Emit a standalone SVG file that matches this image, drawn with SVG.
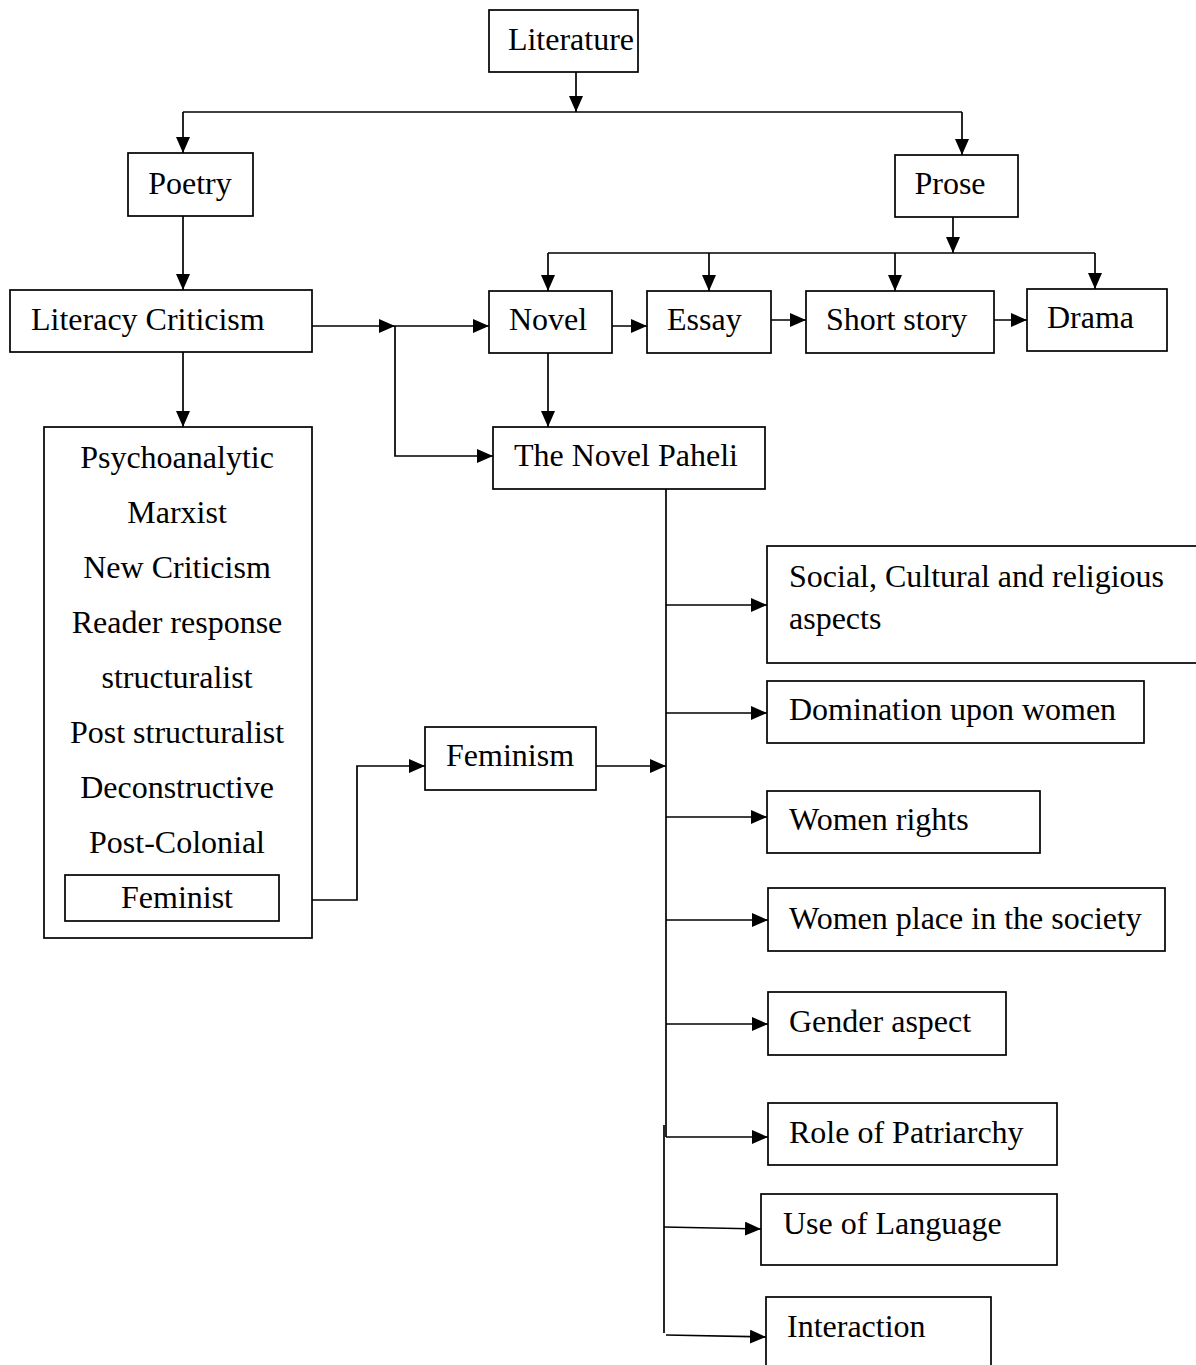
<svg xmlns="http://www.w3.org/2000/svg" width="1196" height="1365" viewBox="0 0 1196 1365">
<style>
.box{fill:#fff;stroke:#000;stroke-width:1.7}
.t{font-family:"Liberation Serif","Times New Roman",serif;font-size:32px;fill:#000}
.c{text-anchor:middle}
.ln{fill:none;stroke:#000;stroke-width:1.7}
</style>
<defs>
<marker id="ah" viewBox="0 0 16 14" refX="16" refY="7" markerWidth="16" markerHeight="14" markerUnits="userSpaceOnUse" orient="auto">
<path d="M0,0 L16,7 L0,14 Z" fill="#000"/>
</marker>
</defs>
<rect width="1196" height="1365" fill="#fff"/>
<g id="connectors">
<path class="ln" d="M576,72 V112" marker-end="url(#ah)"/>
<path class="ln" d="M183,112 H962"/>
<path class="ln" d="M183,112 V153" marker-end="url(#ah)"/>
<path class="ln" d="M962,112 V155" marker-end="url(#ah)"/>
<path class="ln" d="M183,216 V290" marker-end="url(#ah)"/>
<path class="ln" d="M953,217 V253" marker-end="url(#ah)"/>
<path class="ln" d="M548,253 H1095"/>
<path class="ln" d="M548,253 V291" marker-end="url(#ah)"/>
<path class="ln" d="M709,253 V291" marker-end="url(#ah)"/>
<path class="ln" d="M895,253 V291" marker-end="url(#ah)"/>
<path class="ln" d="M1095,253 V289" marker-end="url(#ah)"/>
<path class="ln" d="M612,326 H647" marker-end="url(#ah)"/>
<path class="ln" d="M771,320 H806" marker-end="url(#ah)"/>
<path class="ln" d="M994,320 H1027" marker-end="url(#ah)"/>
<path class="ln" d="M312,326 H395" marker-end="url(#ah)"/>
<path class="ln" d="M395,326 H489" marker-end="url(#ah)"/>
<path class="ln" d="M395,326 V456 H493" marker-end="url(#ah)"/>
<path class="ln" d="M548,353 V427" marker-end="url(#ah)"/>
<path class="ln" d="M183,352 V427" marker-end="url(#ah)"/>
<path class="ln" d="M279,900 H357 V766 H425" marker-end="url(#ah)"/>
<path class="ln" d="M596,766 H666" marker-end="url(#ah)"/>
<path class="ln" d="M666,489 V1137"/>
<path class="ln" d="M664,1125 V1333"/>
<path class="ln" d="M666,605 H767" marker-end="url(#ah)"/>
<path class="ln" d="M666,713 H767" marker-end="url(#ah)"/>
<path class="ln" d="M666,817 H767" marker-end="url(#ah)"/>
<path class="ln" d="M666,920 H768" marker-end="url(#ah)"/>
<path class="ln" d="M666,1024 H768" marker-end="url(#ah)"/>
<path class="ln" d="M666,1137 H768" marker-end="url(#ah)"/>
<path class="ln" d="M664,1227 L761,1229" marker-end="url(#ah)"/>
<path class="ln" d="M666,1335 L766,1337" marker-end="url(#ah)"/>
</g>
<g id="literature"><rect class="box" x="489" y="10" width="149" height="62"/><text class="t c" x="571" y="50">Literature</text></g>
<g id="poetry"><rect class="box" x="128" y="153" width="125" height="63"/><text class="t c" x="190" y="194">Poetry</text></g>
<g id="prose"><rect class="box" x="895" y="155" width="123" height="62"/><text class="t c" x="950" y="194">Prose</text></g>
<g id="literacy-criticism"><rect class="box" x="10" y="290" width="302" height="62"/><text class="t" x="31" y="330">Literacy Criticism</text></g>
<g id="novel"><rect class="box" x="489" y="291" width="123" height="62"/><text class="t" x="509" y="330">Novel</text></g>
<g id="essay"><rect class="box" x="647" y="291" width="124" height="62"/><text class="t" x="667" y="330">Essay</text></g>
<g id="short-story"><rect class="box" x="806" y="291" width="188" height="62"/><text class="t" x="826" y="330">Short story</text></g>
<g id="drama"><rect class="box" x="1027" y="289" width="140" height="62"/><text class="t" x="1047" y="328">Drama</text></g>
<g id="novel-paheli"><rect class="box" x="493" y="427" width="272" height="62"/><text class="t" x="514" y="466">The Novel Paheli</text></g>
<g id="criticism-types"><rect class="box" x="44" y="427" width="268" height="511"/>
<text class="t c" x="177" y="468">Psychoanalytic</text>
<text class="t c" x="177" y="523">Marxist</text>
<text class="t c" x="177" y="578">New Criticism</text>
<text class="t c" x="177" y="633">Reader response</text>
<text class="t c" x="177" y="688">structuralist</text>
<text class="t c" x="177" y="743">Post structuralist</text>
<text class="t c" x="177" y="798">Deconstructive</text>
<text class="t c" x="177" y="853">Post-Colonial</text>
</g>
<g id="feminist"><rect class="box" x="65" y="875" width="214" height="46"/><text class="t c" x="177" y="908">Feminist</text></g>
<g id="feminism"><rect class="box" x="425" y="727" width="171" height="63"/><text class="t" x="446" y="766">Feminism</text></g>
<g id="social"><rect class="box" x="767" y="546" width="435" height="117"/><text class="t" x="789" y="587">Social, Cultural and religious</text><text class="t" x="789" y="629">aspects</text></g>
<g id="domination"><rect class="box" x="767" y="681" width="377" height="62"/><text class="t" x="789" y="720">Domination upon women</text></g>
<g id="women-rights"><rect class="box" x="767" y="791" width="273" height="62"/><text class="t" x="789" y="830">Women rights</text></g>
<g id="women-place"><rect class="box" x="768" y="888" width="397" height="63"/><text class="t" x="789" y="929">Women place in the society</text></g>
<g id="gender"><rect class="box" x="768" y="992" width="238" height="63"/><text class="t" x="789" y="1032">Gender aspect</text></g>
<g id="patriarchy"><rect class="box" x="768" y="1103" width="289" height="62"/><text class="t" x="789" y="1143">Role of Patriarchy</text></g>
<g id="language"><rect class="box" x="761" y="1194" width="296" height="71"/><text class="t" x="783" y="1234">Use of Language</text></g>
<g id="interaction"><rect class="box" x="766" y="1297" width="225" height="80"/><text class="t" x="787" y="1337">Interaction</text></g>
</svg>
